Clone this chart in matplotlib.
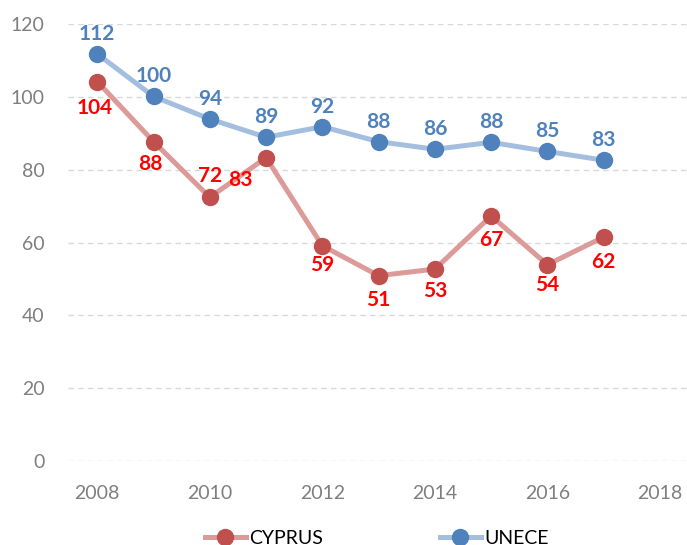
import matplotlib
matplotlib.use("Agg")
from matplotlib import pyplot as plt

years = [2008, 2009, 2010, 2011, 2012, 2013, 2014, 2015, 2016, 2017]
cyprus = [104.2, 87.7, 72.4, 83.3, 59.1, 50.9, 52.7, 67.3, 53.9, 61.5]
unece = [111.8, 100.1, 93.9, 88.9, 91.8, 87.7, 85.6, 87.5, 85.0, 82.6]
cyprus_labels = ["104", "88", "72", "83", "59", "51", "53", "67", "54", "62"]
unece_labels = ["112", "100", "94", "89", "92", "88", "86", "88", "85", "83"]

plt.rcParams['font.family'] = ['Lato', 'DejaVu Sans']

fig = plt.figure(figsize=(6.87, 5.45), dpi=100)
ax = fig.add_axes([68 / 687, 1 - 461 / 545, 1 - 68 / 687, (461 - 24) / 545])

ax.plot(years, cyprus, color="#dc9a99", linewidth=3.6, marker="o", markersize=11.5,
        markerfacecolor="#c0504d", markeredgecolor="#c0504d", label="CYPRUS", clip_on=False, zorder=3)
ax.plot(years, unece, color="#a4bedf", linewidth=3.6, marker="o", markersize=11.5,
        markerfacecolor="#4f81bd", markeredgecolor="#4f81bd", label="UNECE", clip_on=False, zorder=3)

# label offsets in pixels (dx, dy)
cy_off = [(-3, -26), (-3, -22), (0, 21), (-26, -22), (0, -19), (0, -24), (0, -22), (0, -24), (0, -20), (0, -25)]
for x, y, t, (dx, dy) in zip(years, cyprus, cyprus_labels, cy_off):
    ax.annotate(t, (x, y), xytext=(dx * 0.72, dy * 0.72), textcoords="offset points",
                ha="center", va="center", color="#ff0000", fontsize=15, fontweight="bold", zorder=4)
for x, y, t in zip(years, unece, unece_labels):
    ax.annotate(t, (x, y), xytext=(0, 20 * 0.72), textcoords="offset points",
                ha="center", va="center", color="#4f81bd", fontsize=15, fontweight="bold", zorder=4)

ax.set_xlim(2007.48, 2018.48)
ax.set_ylim(0, 120)
ax.set_xticks(range(2008, 2019, 2))
ax.set_yticks(range(0, 121, 20))
ax.tick_params(length=0, labelsize=14, labelcolor="#7f7f7f", pad=17)
ax.grid(axis="y", color="#d9d9d9", linestyle=(0, (4, 3)), linewidth=1)
ax.set_axisbelow(True)
for s in ax.spines.values():
    s.set_visible(False)

fig.legend(loc="center", bbox_to_anchor=(377 / 687, 1 - 538 / 545), ncol=2, frameon=False,
           fontsize=14, handlelength=2.1, handletextpad=0.2, columnspacing=6, borderaxespad=0)

plt.savefig("out.png", dpi=100)
